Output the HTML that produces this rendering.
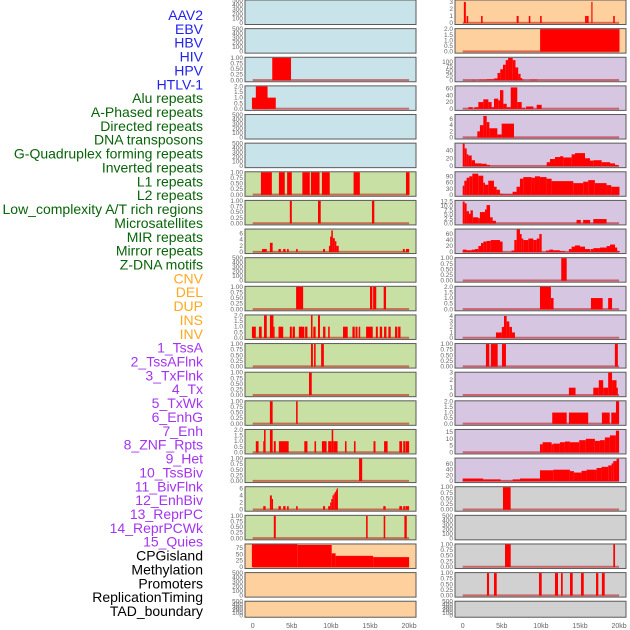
<!DOCTYPE html>
<html><head><meta charset="utf-8"><style>
html,body{margin:0;padding:0;background:#fff;}
svg{display:block;}
</style></head><body>
<svg id="chart" width="630" height="630" viewBox="0 0 630 630" xmlns="http://www.w3.org/2000/svg" font-family="Liberation Sans, sans-serif"></svg>
<script>
// ---- label data ----
const labelNames = ["AAV2","EBV","HBV","HIV","HPV","HTLV-1","Alu repeats","A-Phased repeats","Directed repeats","DNA transposons","G-Quadruplex forming repeats","Inverted repeats","L1 repeats","L2 repeats","Low_complexity A/T rich regions","Microsatellites","MIR repeats","Mirror repeats","Z-DNA motifs","CNV","DEL","DUP","INS","INV","1_TssA","2_TssAFlnk","3_TxFlnk","4_Tx","5_TxWk","6_EnhG","7_Enh","8_ZNF_Rpts","9_Het","10_TssBiv","11_BivFlnk","12_EnhBiv","13_ReprPC","14_ReprPCWk","15_Quies","CPGisland","Methylation","Promoters","ReplicationTiming","TAD_boundary"];
const labelGroups = ["b","b","b","b","b","b","g","g","g","g","g","g","g","g","g","g","g","g","g","o","o","o","o","o","p","p","p","p","p","p","p","p","p","p","p","p","p","p","p","k","k","k","k","k"];
const xTickValues = [0,5,10,15,20];
const xTickLabels = ["0","5kb","10kb","15kb","20kb"];
const tk500 = [0,100,200,300,400,500];
const tk1 = [0,0.25,0.5,0.75,1.0];
const tk2 = [0,0.5,1.0,1.5,2.0];

// ---- left column data [startKb, endKb, value] ----
const segL01 = [], segL02 = [], segL05 = [], segL06 = [], segL10 = [], segL21 = [], segL22 = [];
const segL03 = [[2.5,4.9,1]];
const segL04 = [[-0.1,2.95,1],[0.4,1.9,2]];
const segL07 = [[1.05,2.45,1],[3.35,4.1,1],[4.4,5.0,1],[6.35,7.3,1],[7.45,8.55,1],[8.85,9.85,1],[12.9,13.7,1],[19.6,20.05,1]];
const segL08 = [[4.75,5.0,1],[8.35,8.7,1],[15.25,15.55,1]];
const segL09 = [[1.2,1.8,1],[2.2,2.55,3],[3.3,3.6,1],[3.9,4.2,1],[4.4,4.6,1],[5.55,5.75,1],[9.0,9.25,1],[9.75,10.0,2],[9.9,10.1,5],[10.05,10.25,7],[10.25,10.5,4.5],[10.5,10.7,3.5],[10.7,11.0,2],[19.2,19.45,1],[19.6,20.0,1]];
const segL11 = [[5.55,6.45,1],[15.0,15.3,1],[15.4,15.8,1],[16.75,17.05,1]];
const segL12 = [[-0.1,0.4,1],[0.8,1.15,1],[1.45,1.8,2],[2.2,2.65,2],[2.65,2.8,1],[3.3,3.9,1],[4.75,5.0,1],[5.1,5.4,1],[5.9,6.6,1],[6.7,7.0,1],[7.45,7.65,2],[7.75,8.05,1],[8.35,8.6,2],[9.0,9.3,1],[9.65,9.85,1],[11.55,12.15,1],[12.75,13.05,1],[13.15,13.4,1],[13.55,13.75,1],[14.5,15.35,1],[15.75,16.0,1],[16.25,16.55,1],[16.8,17.1,1],[17.35,17.65,1],[18.2,18.5,1],[18.6,18.9,1]];
const segL13 = [[7.45,7.7,1],[7.85,8.05,1],[8.75,9.1,1]];
const segL14 = [[7.2,7.55,1]];
const segL15 = [[2.2,2.55,1],[5.55,5.75,1]];
const segL16 = [[0.4,0.75,1],[1.35,1.45,1],[1.45,1.65,2],[2.2,2.55,2],[2.7,2.95,1],[3.35,4.6,1],[6.6,7.0,1],[7.9,8.1,1],[8.85,9.45,1],[9.65,10.1,1],[10.1,10.3,2],[10.3,10.85,1],[11.8,12.0,1],[12.95,13.15,1],[15.45,15.7,1],[16.8,17.25,1],[18.75,19.1,1],[19.25,19.55,1],[19.6,20.0,1]];
const segL17 = [[13.6,14.0,1]];
const segL18 = [[1.35,1.65,1],[2.2,2.45,4],[2.45,2.6,3],[3.3,3.6,1],[3.9,4.2,1],[4.4,4.6,1],[5.55,5.75,1],[9.0,9.25,1],[9.65,9.9,1],[9.9,10.05,2],[10.05,10.2,3],[10.2,10.35,4],[10.35,10.5,4.5],[10.5,10.65,5],[10.65,10.75,5.5],[10.75,10.9,6],[16.7,17.0,1],[18.75,19.1,1],[19.25,19.55,1],[19.6,20.0,1]];
const segL19 = [[2.7,2.95,1],[14.5,14.7,1],[16.75,16.95,1],[19.4,19.7,1]];
const segL20 = [[-0.1,5.7,89],[5.7,10.1,87],[10.1,10.6,54],[10.6,15.4,44],[15.4,20.0,39]];

// ---- right column data ----
const segR19 = [], segR22 = [];
const segR01 = [[0.15,0.4,3],[0.5,0.7,1],[2.35,2.55,1],[6.9,7.15,1],[8.45,8.65,1],[9.9,10.1,1],[15.65,15.85,1],[15.85,16.1,1],[16.45,16.6,3],[19.25,19.45,1]];
const segR02 = [[9.9,20.05,2]];
const segR03 = [[1.15,1.7,2],[2.1,3.05,3],[3.05,4.0,5],[4.0,4.45,10],[4.45,4.8,40],[4.8,5.15,60],[5.15,5.5,85],[5.5,5.8,110],[5.8,6.4,122],[6.4,6.75,110],[6.75,7.1,70],[7.1,7.4,35],[7.4,7.6,12],[7.6,7.8,4],[8.6,9.55,3]];
const segR04 = [[0.72,1.28,5],[1.49,2.0,5],[2.0,2.64,20],[2.64,3.28,28],[3.28,3.7,20],[3.7,4.0,5],[4.0,4.55,30],[4.55,4.77,25],[4.77,5.2,55],[5.2,5.63,15],[5.63,6.14,5],[6.14,6.98,63],[6.98,7.54,20],[7.54,7.97,3],[8.1,9.03,7],[9.46,10.1,12]];
const segR05 = [[1.87,2.2,2],[2.2,2.64,4],[2.64,3.07,7],[3.07,3.41,5],[3.41,4.43,3],[4.43,4.98,1],[4.98,6.56,4.5]];
const segR06 = [[0,0.25,57],[0.25,0.51,45],[0.51,0.72,30],[0.72,1.15,27],[1.15,1.57,15],[1.57,2.43,7],[2.43,3.07,6],[3.07,3.49,3],[10.74,11.16,10],[11.16,11.8,18],[11.8,12.44,23],[12.44,12.87,25],[12.87,13.93,22],[13.93,14.36,30],[14.36,15.64,33],[15.64,16.28,20],[16.28,16.7,14],[16.7,17.77,15],[17.77,18.84,10],[18.84,19.48,7],[19.48,19.9,3]];
const segR07 = [[0,0.21,45],[0.21,0.5,70],[0.5,0.84,85],[0.84,1.23,92],[1.23,1.99,105],[1.99,2.63,95],[2.63,2.85,60],[2.85,3.27,50],[3.27,4.0,70],[4.0,4.34,40],[4.34,4.76,25],[4.76,5.1,5],[5.1,6.38,3],[6.38,6.89,15],[6.89,7.32,40],[7.32,7.75,80],[7.75,8.81,88],[8.81,9.24,85],[9.24,9.88,92],[9.88,10.73,88],[10.73,11.37,80],[11.37,14.14,68],[14.14,15.41,58],[15.41,16.05,65],[16.05,16.9,73],[16.9,18.4,58],[18.4,19.0,48],[19.0,20.05,40]];
const segR08 = [[0,0.25,12.5],[0.25,0.5,11.5],[0.5,0.8,7],[0.8,1.0,5.5],[1.0,1.3,7.5],[1.3,2.0,3.5],[2.0,2.2,3],[2.2,2.85,6.5],[2.85,3.05,8],[3.05,3.5,10.5],[3.5,3.83,3.5],[3.83,4.25,1.5],[14.56,15.1,2],[15.4,16.3,2],[16.7,18.4,2.5]];
const segR09 = [[0,0.5,8],[0.5,1.15,6],[1.15,1.57,8],[1.57,2.0,10],[2.0,2.34,20],[2.34,2.64,30],[2.64,3.07,35],[3.07,3.58,37],[3.58,4.77,40],[4.77,5.1,35],[6.25,6.68,5],[6.6,6.9,40],[6.9,7.32,75],[7.32,7.54,60],[7.54,7.75,45],[7.75,8.39,40],[8.39,9.03,45],[9.03,9.46,40],[9.46,9.8,45],[9.8,10.1,60],[10.65,11.08,5],[11.08,11.58,8],[11.58,12.43,6],[12.43,13.07,3],[13.58,13.93,10],[13.93,14.36,18],[14.36,15.0,22],[15.0,15.64,18],[15.64,16.28,10],[16.35,16.7,10],[16.7,17.55,13],[17.55,18.4,15],[18.4,18.84,20],[18.84,19.48,25],[19.48,19.76,15],[19.76,20.1,3]];
const segR10 = [[12.6,13.3,1]];
const segR11 = [[9.88,11.28,2],[11.28,11.62,1],[16.4,17.9,1],[18.6,19.1,1]];
const segR12 = [[4.25,5.0,1],[5.0,5.28,2],[5.28,5.62,4],[5.62,5.96,3],[5.96,6.3,2],[6.3,6.68,1]];
const segR13 = [[2.97,3.4,1],[3.6,4.47,1],[5.02,5.53,1],[19.46,19.84,1]];
const segR14 = [[13.58,14.43,1],[16.7,17.4,1],[17.4,17.97,2],[17.97,18.6,1],[18.6,19.1,3],[19.1,19.67,2],[19.67,19.84,1]];
const segR15 = [[11.45,13.3,1],[13.58,16.05,1],[17.8,18.8,1],[19.0,19.6,1],[19.6,20.0,2]];
const segR16 = [[9.88,10.22,6],[10.22,11.37,7.5],[11.37,11.58,6],[11.58,12.43,6.5],[12.43,13.07,7.5],[13.07,13.71,8],[13.71,14.9,7.5],[14.9,15.75,9],[15.75,16.9,10],[16.9,17.55,8.5],[17.55,18.18,9],[18.18,18.82,11],[18.82,19.59,12.5],[19.59,20.0,16]];
const segR17 = [[0,2.63,9],[2.63,4.85,6],[4.85,6.38,1],[6.38,7.32,6],[7.32,9.88,9],[9.88,11.58,38],[11.58,13.71,40],[13.71,14.22,35],[14.22,15.2,30],[15.2,15.84,36],[15.84,17.12,40],[17.12,17.76,46],[17.76,18.61,50],[18.61,19.04,55],[19.04,19.25,62],[19.25,19.67,70],[19.67,20.0,78]];
const segR18 = [[5.15,6.13,1]];
const segR20 = [[5.41,6.14,1],[19.26,19.48,1]];
const segR21 = [[3.1,3.37,1],[4.0,4.35,1],[9.76,10.1,1],[11.8,12.19,1],[12.57,12.79,1],[13.72,14.07,1],[15.13,15.48,1],[17.05,17.34,1],[17.8,18.16,1]];

const leftSegs = [segL01,segL02,segL03,segL04,segL05,segL06,segL07,segL08,segL09,segL10,segL11,segL12,segL13,segL14,segL15,segL16,segL17,segL18,segL19,segL20,segL21,segL22];
const rightSegs = [segR01,segR02,segR03,segR04,segR05,segR06,segR07,segR08,segR09,segR10,segR11,segR12,segR13,segR14,segR15,segR16,segR17,segR18,segR19,segR20,segR21,segR22];
const leftMax = [500,500,1,2,500,500,1,1,7.3,500,1,2,1,1,1,2,1,6.3,1,89,500,500];
const rightMax = [3.2,2,123,66,7.3,57,112,12.9,75,1,2,4.1,1,3,2,16.5,79,1,500,1,1,500];
const leftTicks = [tk500,tk500,tk1,tk2,tk500,tk500,tk1,tk1,[0,2,4,6],tk500,tk1,tk2,tk1,tk1,tk1,tk2,tk1,[0,2,4,6],tk1,[0,25,50,75],tk500,tk500];
const rightTicks = [[0,1,2,3],tk2,[0,25,50,75,100],[0,20,40,60],[0,2,4,6],[0,20,40],[0,30,60,90],[0,2.5,5,7.5,10,12.5],[0,20,40,60],tk1,tk2,[0,1,2,3,4],tk1,[0,1,2,3],tk2,[0,5,10,15],[0,20,40,60],tk1,tk500,tk1,tk1,tk500];
const leftBg = ["b","b","b","b","b","b","g","g","g","g","g","g","g","g","g","g","g","g","g","o","o","o"];
const rightBg = ["o","o","l","l","l","l","l","l","l","l","l","l","l","l","l","l","l","y","y","y","y","y"];

// ---- rendering ----
const NS = "http://www.w3.org/2000/svg";
const svg = document.getElementById("chart");
const bgColors = {b:"#c9e3eb",g:"#c8e0a3",o:"#fed09d",l:"#d7c6e2",y:"#d1d1d1"};
const labelColors = {b:"#2222ee",g:"#086408",o:"#ffa820",p:"#a334f0",k:"#000000"};
function mk(tag, attrs){const e=document.createElementNS(NS,tag);for(const k in attrs)e.setAttribute(k,attrs[k]);svg.appendChild(e);return e;}
function rowTop(i){return 28.63*i;}
function rowH(i){return i===21?16:24.5;}
function xScale(col, kb){return (col===0?252.7:462.7) + kb*7.82;}
function fmt(t, ticks){
  const mx = Math.max(...ticks);
  if(ticks===tk1) return t.toFixed(2);
  if(ticks===tk2) return t.toFixed(1);
  if(mx===12.5) return t.toFixed(1);
  return String(t);
}

// left labels
const lsp = (611-15)/(labelNames.length-1);
labelNames.forEach((n,i)=>{
  const t = mk("text",{x:203,y:15+lsp*i+5,"text-anchor":"end","font-size":"14",fill:labelColors[labelGroups[i]]});
  t.textContent = n;
  
  
});

function drawPanel(col, i, segs, mx, ticks, bg){
  const x0 = col===0?245:455, w = 171;
  const top = rowTop(i), h = rowH(i), bot = top+h;
  const yz = bot-1.5, yt = top+0.5;
  const ys = v => yz - v/mx*(yz-yt);
  const r = mk("rect",{x:x0,y:top,width:w,height:h,fill:bgColors[bg],stroke:"#5a5a5a","stroke-width":1});
  
  
  ticks.forEach(t=>{
    const tx = mk("text",{x:x0-2,y:ys(t)+2,"text-anchor":"end","font-size":"6.5",fill:"#666"});
    tx.textContent = fmt(t,ticks);
    
    
  });
  if(segs.length){
    const bl = mk("rect",{x:xScale(col,0),y:yz-1.2,width:xScale(col,20)-xScale(col,0),height:2,fill:"rgba(190,0,0,0.5)"});
    
    
  }
  segs.forEach(s=>{
    const xa = xScale(col,s[0]), xb = xScale(col,s[1]);
    const yv = Math.max(ys(s[2]), top+0.5);
    const b = mk("rect",{x:xa,y:yv,width:Math.max(1,xb-xa),height:yz-yv,fill:"#ff0000"});
    
    
  });
}
for(let i=0;i<22;i++){
  drawPanel(0,i,leftSegs[i],leftMax[i],leftTicks[i],leftBg[i]);
  drawPanel(1,i,rightSegs[i],rightMax[i],rightTicks[i],rightBg[i]);
}
// x axis labels
[0,1].forEach(col=>{
  xTickValues.forEach((v,k)=>{
    const t = mk("text",{x:xScale(col,v),y:628,"text-anchor":"middle","font-size":"7",fill:"#666"});
    t.textContent = xTickLabels[k];
    
    
  });
});
</script>
</body></html>
